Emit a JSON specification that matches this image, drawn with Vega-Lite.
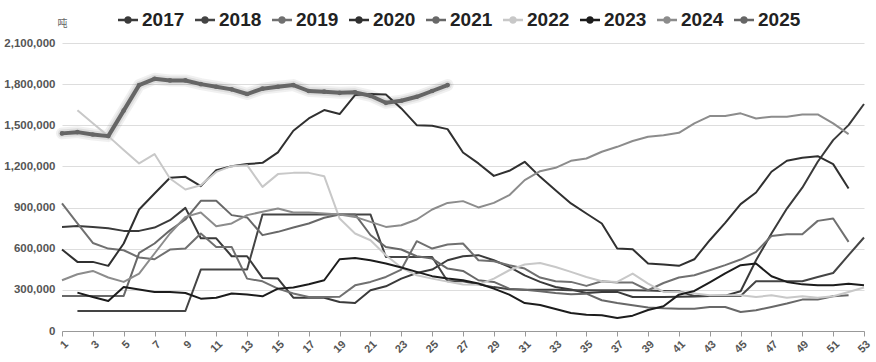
{
"$schema":"https://vega.github.io/schema/vega-lite/v6.json",
"width":802,"height":288,
"autosize":{"type":"none"},
"padding":{"left":62,"top":43,"right":12,"bottom":31},
"background":"white",
"config":{"view":{"stroke":null},"font":"Liberation Sans"},
"datasets":{"d":[
{"w":1,"yr":"2017","v":759000},{"w":2,"yr":"2017","v":766000},{"w":3,"yr":"2017","v":759000},{"w":4,"yr":"2017","v":750000},{"w":5,"yr":"2017","v":730000},{"w":6,"yr":"2017","v":730000},{"w":7,"yr":"2017","v":754000},{"w":8,"yr":"2017","v":808000},{"w":9,"yr":"2017","v":898000},{"w":10,"yr":"2017","v":676000},{"w":11,"yr":"2017","v":676000},{"w":12,"yr":"2017","v":545000},{"w":13,"yr":"2017","v":545000},{"w":14,"yr":"2017","v":387000},{"w":15,"yr":"2017","v":382000},{"w":16,"yr":"2017","v":243000},{"w":17,"yr":"2017","v":243000},{"w":18,"yr":"2017","v":243000},{"w":19,"yr":"2017","v":212000},{"w":20,"yr":"2017","v":204000},{"w":21,"yr":"2017","v":297000},{"w":22,"yr":"2017","v":326000},{"w":23,"yr":"2017","v":382000},{"w":24,"yr":"2017","v":423000},{"w":25,"yr":"2017","v":448000},{"w":26,"yr":"2017","v":516000},{"w":27,"yr":"2017","v":545000},{"w":28,"yr":"2017","v":553000},{"w":29,"yr":"2017","v":516000},{"w":30,"yr":"2017","v":467000},{"w":31,"yr":"2017","v":406000},{"w":32,"yr":"2017","v":358000},{"w":33,"yr":"2017","v":321000},{"w":34,"yr":"2017","v":302000},{"w":35,"yr":"2017","v":277000},{"w":36,"yr":"2017","v":285000},{"w":37,"yr":"2017","v":285000},{"w":38,"yr":"2017","v":248000},{"w":39,"yr":"2017","v":248000},{"w":40,"yr":"2017","v":248000},{"w":41,"yr":"2017","v":250000},{"w":42,"yr":"2017","v":252000},{"w":43,"yr":"2017","v":255000},{"w":44,"yr":"2017","v":258000},{"w":45,"yr":"2017","v":290000},{"w":46,"yr":"2017","v":516000},{"w":47,"yr":"2017","v":711000},{"w":48,"yr":"2017","v":893000},{"w":49,"yr":"2017","v":1045000},{"w":50,"yr":"2017","v":1234000},{"w":51,"yr":"2017","v":1392000},{"w":52,"yr":"2017","v":1501000},{"w":53,"yr":"2017","v":1655000},
{"w":2,"yr":"2018","v":146000},{"w":3,"yr":"2018","v":146000},{"w":4,"yr":"2018","v":146000},{"w":5,"yr":"2018","v":146000},{"w":6,"yr":"2018","v":146000},{"w":7,"yr":"2018","v":146000},{"w":8,"yr":"2018","v":146000},{"w":9,"yr":"2018","v":146000},{"w":10,"yr":"2018","v":448000},{"w":11,"yr":"2018","v":448000},{"w":12,"yr":"2018","v":448000},{"w":13,"yr":"2018","v":448000},{"w":14,"yr":"2018","v":850000},{"w":15,"yr":"2018","v":850000},{"w":16,"yr":"2018","v":850000},{"w":17,"yr":"2018","v":850000},{"w":18,"yr":"2018","v":850000},{"w":19,"yr":"2018","v":850000},{"w":20,"yr":"2018","v":850000},{"w":21,"yr":"2018","v":850000},{"w":22,"yr":"2018","v":540000},{"w":23,"yr":"2018","v":540000},{"w":24,"yr":"2018","v":540000},{"w":25,"yr":"2018","v":540000},{"w":26,"yr":"2018","v":363000},{"w":27,"yr":"2018","v":363000},{"w":28,"yr":"2018","v":340000},{"w":29,"yr":"2018","v":320000},{"w":30,"yr":"2018","v":305000},{"w":31,"yr":"2018","v":300000},{"w":32,"yr":"2018","v":300000},{"w":33,"yr":"2018","v":300000},{"w":34,"yr":"2018","v":298000},{"w":35,"yr":"2018","v":297000},{"w":36,"yr":"2018","v":297000},{"w":37,"yr":"2018","v":297000},{"w":38,"yr":"2018","v":297000},{"w":39,"yr":"2018","v":295000},{"w":40,"yr":"2018","v":292000},{"w":41,"yr":"2018","v":290000},{"w":42,"yr":"2018","v":255000},{"w":43,"yr":"2018","v":255000},{"w":44,"yr":"2018","v":255000},{"w":45,"yr":"2018","v":255000},{"w":46,"yr":"2018","v":363000},{"w":47,"yr":"2018","v":363000},{"w":48,"yr":"2018","v":363000},{"w":49,"yr":"2018","v":363000},{"w":50,"yr":"2018","v":394000},{"w":51,"yr":"2018","v":423000},{"w":52,"yr":"2018","v":553000},{"w":53,"yr":"2018","v":682000},
{"w":1,"yr":"2019","v":930000},{"w":2,"yr":"2019","v":784000},{"w":3,"yr":"2019","v":642000},{"w":4,"yr":"2019","v":601000},{"w":5,"yr":"2019","v":589000},{"w":6,"yr":"2019","v":536000},{"w":7,"yr":"2019","v":523000},{"w":8,"yr":"2019","v":594000},{"w":9,"yr":"2019","v":601000},{"w":10,"yr":"2019","v":711000},{"w":11,"yr":"2019","v":613000},{"w":12,"yr":"2019","v":613000},{"w":13,"yr":"2019","v":382000},{"w":14,"yr":"2019","v":362000},{"w":15,"yr":"2019","v":309000},{"w":16,"yr":"2019","v":273000},{"w":17,"yr":"2019","v":248000},{"w":18,"yr":"2019","v":248000},{"w":19,"yr":"2019","v":250000},{"w":20,"yr":"2019","v":333000},{"w":21,"yr":"2019","v":358000},{"w":22,"yr":"2019","v":394000},{"w":23,"yr":"2019","v":448000},{"w":24,"yr":"2019","v":655000},{"w":25,"yr":"2019","v":601000},{"w":26,"yr":"2019","v":631000},{"w":27,"yr":"2019","v":638000},{"w":28,"yr":"2019","v":516000},{"w":29,"yr":"2019","v":509000},{"w":30,"yr":"2019","v":480000},{"w":31,"yr":"2019","v":455000},{"w":32,"yr":"2019","v":390000},{"w":33,"yr":"2019","v":363000},{"w":34,"yr":"2019","v":358000},{"w":35,"yr":"2019","v":329000},{"w":36,"yr":"2019","v":363000},{"w":37,"yr":"2019","v":353000},{"w":38,"yr":"2019","v":353000},{"w":39,"yr":"2019","v":297000},{"w":40,"yr":"2019","v":350000},{"w":41,"yr":"2019","v":390000},{"w":42,"yr":"2019","v":406000},{"w":43,"yr":"2019","v":443000},{"w":44,"yr":"2019","v":480000},{"w":45,"yr":"2019","v":521000},{"w":46,"yr":"2019","v":577000},{"w":47,"yr":"2019","v":693000},{"w":48,"yr":"2019","v":706000},{"w":49,"yr":"2019","v":706000},{"w":50,"yr":"2019","v":803000},{"w":51,"yr":"2019","v":820000},{"w":52,"yr":"2019","v":650000},
{"w":1,"yr":"2020","v":594000},{"w":2,"yr":"2020","v":504000},{"w":3,"yr":"2020","v":504000},{"w":4,"yr":"2020","v":475000},{"w":5,"yr":"2020","v":638000},{"w":6,"yr":"2020","v":886000},{"w":7,"yr":"2020","v":1003000},{"w":8,"yr":"2020","v":1117000},{"w":9,"yr":"2020","v":1124000},{"w":10,"yr":"2020","v":1056000},{"w":11,"yr":"2020","v":1173000},{"w":12,"yr":"2020","v":1202000},{"w":13,"yr":"2020","v":1217000},{"w":14,"yr":"2020","v":1226000},{"w":15,"yr":"2020","v":1302000},{"w":16,"yr":"2020","v":1460000},{"w":17,"yr":"2020","v":1550000},{"w":18,"yr":"2020","v":1611000},{"w":19,"yr":"2020","v":1582000},{"w":20,"yr":"2020","v":1720000},{"w":21,"yr":"2020","v":1728000},{"w":22,"yr":"2020","v":1725000},{"w":23,"yr":"2020","v":1623000},{"w":24,"yr":"2020","v":1501000},{"w":25,"yr":"2020","v":1496000},{"w":26,"yr":"2020","v":1472000},{"w":27,"yr":"2020","v":1302000},{"w":28,"yr":"2020","v":1222000},{"w":29,"yr":"2020","v":1131000},{"w":30,"yr":"2020","v":1168000},{"w":31,"yr":"2020","v":1234000},{"w":32,"yr":"2020","v":1124000},{"w":33,"yr":"2020","v":1027000},{"w":34,"yr":"2020","v":930000},{"w":35,"yr":"2020","v":857000},{"w":36,"yr":"2020","v":784000},{"w":37,"yr":"2020","v":601000},{"w":38,"yr":"2020","v":596000},{"w":39,"yr":"2020","v":492000},{"w":40,"yr":"2020","v":485000},{"w":41,"yr":"2020","v":475000},{"w":42,"yr":"2020","v":523000},{"w":43,"yr":"2020","v":662000},{"w":44,"yr":"2020","v":788000},{"w":45,"yr":"2020","v":925000},{"w":46,"yr":"2020","v":1010000},{"w":47,"yr":"2020","v":1161000},{"w":48,"yr":"2020","v":1241000},{"w":49,"yr":"2020","v":1263000},{"w":50,"yr":"2020","v":1275000},{"w":51,"yr":"2020","v":1217000},{"w":52,"yr":"2020","v":1039000},
{"w":1,"yr":"2021","v":256000},{"w":2,"yr":"2021","v":256000},{"w":3,"yr":"2021","v":256000},{"w":4,"yr":"2021","v":256000},{"w":5,"yr":"2021","v":256000},{"w":6,"yr":"2021","v":569000},{"w":7,"yr":"2021","v":638000},{"w":8,"yr":"2021","v":735000},{"w":9,"yr":"2021","v":813000},{"w":10,"yr":"2021","v":949000},{"w":11,"yr":"2021","v":949000},{"w":12,"yr":"2021","v":845000},{"w":13,"yr":"2021","v":828000},{"w":14,"yr":"2021","v":699000},{"w":15,"yr":"2021","v":723000},{"w":16,"yr":"2021","v":755000},{"w":17,"yr":"2021","v":784000},{"w":18,"yr":"2021","v":826000},{"w":19,"yr":"2021","v":850000},{"w":20,"yr":"2021","v":850000},{"w":21,"yr":"2021","v":700000},{"w":22,"yr":"2021","v":613000},{"w":23,"yr":"2021","v":594000},{"w":24,"yr":"2021","v":545000},{"w":25,"yr":"2021","v":528000},{"w":26,"yr":"2021","v":455000},{"w":27,"yr":"2021","v":438000},{"w":28,"yr":"2021","v":370000},{"w":29,"yr":"2021","v":358000},{"w":30,"yr":"2021","v":309000},{"w":31,"yr":"2021","v":300000},{"w":32,"yr":"2021","v":290000},{"w":33,"yr":"2021","v":277000},{"w":34,"yr":"2021","v":268000},{"w":35,"yr":"2021","v":272000},{"w":36,"yr":"2021","v":224000},{"w":37,"yr":"2021","v":204000},{"w":38,"yr":"2021","v":188000},{"w":39,"yr":"2021","v":171000},{"w":40,"yr":"2021","v":165000},{"w":41,"yr":"2021","v":163000},{"w":42,"yr":"2021","v":163000},{"w":43,"yr":"2021","v":175000},{"w":44,"yr":"2021","v":175000},{"w":45,"yr":"2021","v":139000},{"w":46,"yr":"2021","v":151000},{"w":47,"yr":"2021","v":175000},{"w":48,"yr":"2021","v":200000},{"w":49,"yr":"2021","v":229000},{"w":50,"yr":"2021","v":229000},{"w":51,"yr":"2021","v":253000},{"w":52,"yr":"2021","v":260000},
{"w":2,"yr":"2022","v":1610000},{"w":3,"yr":"2022","v":1515000},{"w":4,"yr":"2022","v":1421000},{"w":5,"yr":"2022","v":1320000},{"w":6,"yr":"2022","v":1222000},{"w":7,"yr":"2022","v":1290000},{"w":8,"yr":"2022","v":1112000},{"w":9,"yr":"2022","v":1032000},{"w":10,"yr":"2022","v":1063000},{"w":11,"yr":"2022","v":1160000},{"w":12,"yr":"2022","v":1202000},{"w":13,"yr":"2022","v":1209000},{"w":14,"yr":"2022","v":1051000},{"w":15,"yr":"2022","v":1144000},{"w":16,"yr":"2022","v":1153000},{"w":17,"yr":"2022","v":1153000},{"w":18,"yr":"2022","v":1129000},{"w":19,"yr":"2022","v":820000},{"w":20,"yr":"2022","v":711000},{"w":21,"yr":"2022","v":662000},{"w":22,"yr":"2022","v":553000},{"w":23,"yr":"2022","v":463000},{"w":24,"yr":"2022","v":406000},{"w":25,"yr":"2022","v":382000},{"w":26,"yr":"2022","v":360000},{"w":27,"yr":"2022","v":339000},{"w":28,"yr":"2022","v":338000},{"w":29,"yr":"2022","v":382000},{"w":30,"yr":"2022","v":443000},{"w":31,"yr":"2022","v":485000},{"w":32,"yr":"2022","v":496000},{"w":33,"yr":"2022","v":467000},{"w":34,"yr":"2022","v":431000},{"w":35,"yr":"2022","v":394000},{"w":36,"yr":"2022","v":363000},{"w":37,"yr":"2022","v":358000},{"w":38,"yr":"2022","v":419000},{"w":39,"yr":"2022","v":346000},{"w":40,"yr":"2022","v":285000},{"w":41,"yr":"2022","v":285000},{"w":42,"yr":"2022","v":273000},{"w":43,"yr":"2022","v":260000},{"w":44,"yr":"2022","v":260000},{"w":45,"yr":"2022","v":260000},{"w":46,"yr":"2022","v":248000},{"w":47,"yr":"2022","v":260000},{"w":48,"yr":"2022","v":243000},{"w":49,"yr":"2022","v":253000},{"w":50,"yr":"2022","v":243000},{"w":51,"yr":"2022","v":253000},{"w":52,"yr":"2022","v":285000},{"w":53,"yr":"2022","v":317000},
{"w":2,"yr":"2023","v":280000},{"w":3,"yr":"2023","v":248000},{"w":4,"yr":"2023","v":219000},{"w":5,"yr":"2023","v":321000},{"w":6,"yr":"2023","v":302000},{"w":7,"yr":"2023","v":285000},{"w":8,"yr":"2023","v":285000},{"w":9,"yr":"2023","v":277000},{"w":10,"yr":"2023","v":236000},{"w":11,"yr":"2023","v":243000},{"w":12,"yr":"2023","v":273000},{"w":13,"yr":"2023","v":266000},{"w":14,"yr":"2023","v":253000},{"w":15,"yr":"2023","v":309000},{"w":16,"yr":"2023","v":317000},{"w":17,"yr":"2023","v":341000},{"w":18,"yr":"2023","v":370000},{"w":19,"yr":"2023","v":523000},{"w":20,"yr":"2023","v":533000},{"w":21,"yr":"2023","v":516000},{"w":22,"yr":"2023","v":492000},{"w":23,"yr":"2023","v":463000},{"w":24,"yr":"2023","v":431000},{"w":25,"yr":"2023","v":400000},{"w":26,"yr":"2023","v":382000},{"w":27,"yr":"2023","v":370000},{"w":28,"yr":"2023","v":346000},{"w":29,"yr":"2023","v":309000},{"w":30,"yr":"2023","v":265000},{"w":31,"yr":"2023","v":204000},{"w":32,"yr":"2023","v":190000},{"w":33,"yr":"2023","v":160000},{"w":34,"yr":"2023","v":131000},{"w":35,"yr":"2023","v":118000},{"w":36,"yr":"2023","v":115000},{"w":37,"yr":"2023","v":95000},{"w":38,"yr":"2023","v":112000},{"w":39,"yr":"2023","v":153000},{"w":40,"yr":"2023","v":180000},{"w":41,"yr":"2023","v":265000},{"w":42,"yr":"2023","v":292000},{"w":43,"yr":"2023","v":355000},{"w":44,"yr":"2023","v":421000},{"w":45,"yr":"2023","v":480000},{"w":46,"yr":"2023","v":492000},{"w":47,"yr":"2023","v":399000},{"w":48,"yr":"2023","v":358000},{"w":49,"yr":"2023","v":340000},{"w":50,"yr":"2023","v":333000},{"w":51,"yr":"2023","v":333000},{"w":52,"yr":"2023","v":344000},{"w":53,"yr":"2023","v":333000},
{"w":1,"yr":"2024","v":370000},{"w":2,"yr":"2024","v":414000},{"w":3,"yr":"2024","v":438000},{"w":4,"yr":"2024","v":390000},{"w":5,"yr":"2024","v":358000},{"w":6,"yr":"2024","v":419000},{"w":7,"yr":"2024","v":565000},{"w":8,"yr":"2024","v":711000},{"w":9,"yr":"2024","v":832000},{"w":10,"yr":"2024","v":864000},{"w":11,"yr":"2024","v":764000},{"w":12,"yr":"2024","v":784000},{"w":13,"yr":"2024","v":845000},{"w":14,"yr":"2024","v":869000},{"w":15,"yr":"2024","v":893000},{"w":16,"yr":"2024","v":864000},{"w":17,"yr":"2024","v":864000},{"w":18,"yr":"2024","v":857000},{"w":19,"yr":"2024","v":850000},{"w":20,"yr":"2024","v":832000},{"w":21,"yr":"2024","v":796000},{"w":22,"yr":"2024","v":759000},{"w":23,"yr":"2024","v":771000},{"w":24,"yr":"2024","v":813000},{"w":25,"yr":"2024","v":886000},{"w":26,"yr":"2024","v":934000},{"w":27,"yr":"2024","v":947000},{"w":28,"yr":"2024","v":901000},{"w":29,"yr":"2024","v":934000},{"w":30,"yr":"2024","v":990000},{"w":31,"yr":"2024","v":1100000},{"w":32,"yr":"2024","v":1165000},{"w":33,"yr":"2024","v":1190000},{"w":34,"yr":"2024","v":1241000},{"w":35,"yr":"2024","v":1258000},{"w":36,"yr":"2024","v":1307000},{"w":37,"yr":"2024","v":1343000},{"w":38,"yr":"2024","v":1385000},{"w":39,"yr":"2024","v":1416000},{"w":40,"yr":"2024","v":1428000},{"w":41,"yr":"2024","v":1445000},{"w":42,"yr":"2024","v":1514000},{"w":43,"yr":"2024","v":1567000},{"w":44,"yr":"2024","v":1567000},{"w":45,"yr":"2024","v":1587000},{"w":46,"yr":"2024","v":1550000},{"w":47,"yr":"2024","v":1562000},{"w":48,"yr":"2024","v":1562000},{"w":49,"yr":"2024","v":1579000},{"w":50,"yr":"2024","v":1579000},{"w":51,"yr":"2024","v":1514000},{"w":52,"yr":"2024","v":1436000},
{"w":1,"yr":"2025","v":1441000},{"w":2,"yr":"2025","v":1450000},{"w":3,"yr":"2025","v":1433000},{"w":4,"yr":"2025","v":1421000},{"w":5,"yr":"2025","v":1607000},{"w":6,"yr":"2025","v":1793000},{"w":7,"yr":"2025","v":1839000},{"w":8,"yr":"2025","v":1827000},{"w":9,"yr":"2025","v":1827000},{"w":10,"yr":"2025","v":1800000},{"w":11,"yr":"2025","v":1781000},{"w":12,"yr":"2025","v":1762000},{"w":13,"yr":"2025","v":1728000},{"w":14,"yr":"2025","v":1767000},{"w":15,"yr":"2025","v":1781000},{"w":16,"yr":"2025","v":1793000},{"w":17,"yr":"2025","v":1750000},{"w":18,"yr":"2025","v":1745000},{"w":19,"yr":"2025","v":1737000},{"w":20,"yr":"2025","v":1740000},{"w":21,"yr":"2025","v":1715000},{"w":22,"yr":"2025","v":1664000},{"w":23,"yr":"2025","v":1679000},{"w":24,"yr":"2025","v":1708000},{"w":25,"yr":"2025","v":1750000},{"w":26,"yr":"2025","v":1793000}
]},
"data":{"name":"d"},
"encoding":{
 "x":{"field":"w","type":"quantitative","scale":{"domain":[1,53],"nice":false,"zero":false},
  "axis":{"values":[1,3,5,7,9,11,13,15,17,19,21,23,25,27,29,31,33,35,37,39,41,43,45,47,49,51,53],"title":null,"grid":false,"labelAngle":-45,"labelFont":"Liberation Sans","labelFontSize":11,"labelFontWeight":"bold","labelColor":"#555555","domainColor":"#999999","tickColor":"#999999","tickSize":5,"labelPadding":2,"labelFlush":false,"labelOverlap":false}},
 "y":{"field":"v","type":"quantitative","scale":{"domain":[0,2100000],"nice":false},
  "axis":{"values":[0,300000,600000,900000,1200000,1500000,1800000,2100000],"format":",.0f","grid":true,"gridColor":"#dddddd","domain":false,"ticks":false,"labelPadding":7,"labelFont":"Liberation Sans","labelFontSize":11.5,"labelFontWeight":"bold","labelColor":"#555555","title":"吨","titleAngle":0,"titleX":0,"titleY":-20,"titleAlign":"center","titleBaseline":"middle","titleFont":"Noto Sans CJK SC","titleFontSize":10,"titleFontWeight":"normal","titleColor":"#666666"}}
},
"layer":[
 {"transform":[{"filter":"datum.yr==='2025'"}],"mark":{"type":"line","stroke":"#000000","strokeWidth":12,"opacity":0.06,"strokeJoin":"round","strokeCap":"round"}},
 {"transform":[{"filter":"datum.yr==='2025'"}],"mark":{"type":"line","stroke":"#000000","strokeWidth":8,"opacity":0.08,"strokeJoin":"round","strokeCap":"round"}},
 {"transform":[{"filter":"datum.yr!=='2025'"}],"mark":{"type":"line","strokeWidth":2,"strokeJoin":"round"},
  "encoding":{"color":{"field":"yr","type":"nominal",
   "scale":{"domain":["2017","2018","2019","2020","2021","2022","2023","2024","2025"],"range":["#3a3a3a","#444444","#707070","#303030","#686868","#c8c8c8","#1c1c1c","#8c8c8c","#666666"]},
   "legend":{"title":null,"orient":"none","legendX":56,"legendY":-33,"direction":"horizontal","padding":0,
    "symbolType":"M-1,-0.12L1,-0.12L1,0.12L-1,0.12Z M0.38,0A0.38,0.38,0,1,1,-0.38,0A0.38,0.38,0,1,1,0.38,0Z",
    "symbolSize":400,"symbolStrokeWidth":0,"labelFont":"Liberation Sans","labelFontSize":19,"labelFontWeight":"bold","labelColor":"#222222","labelOffset":4,"columnPadding":10,
    "encode":{"symbols":{"update":{"fill":{"scale":"color","field":"value"},"stroke":{"value":"transparent"}}}}}}}},
 {"transform":[{"filter":"datum.yr==='2025'"}],"mark":{"type":"line","strokeWidth":4,"strokeJoin":"round","strokeCap":"round"},
  "encoding":{"color":{"field":"yr","type":"nominal"}}},
 {"transform":[{"filter":"datum.yr==='2025'"}],"mark":{"type":"point","filled":true,"size":22,"opacity":1},
  "encoding":{"color":{"field":"yr","type":"nominal"}}}
]
}
